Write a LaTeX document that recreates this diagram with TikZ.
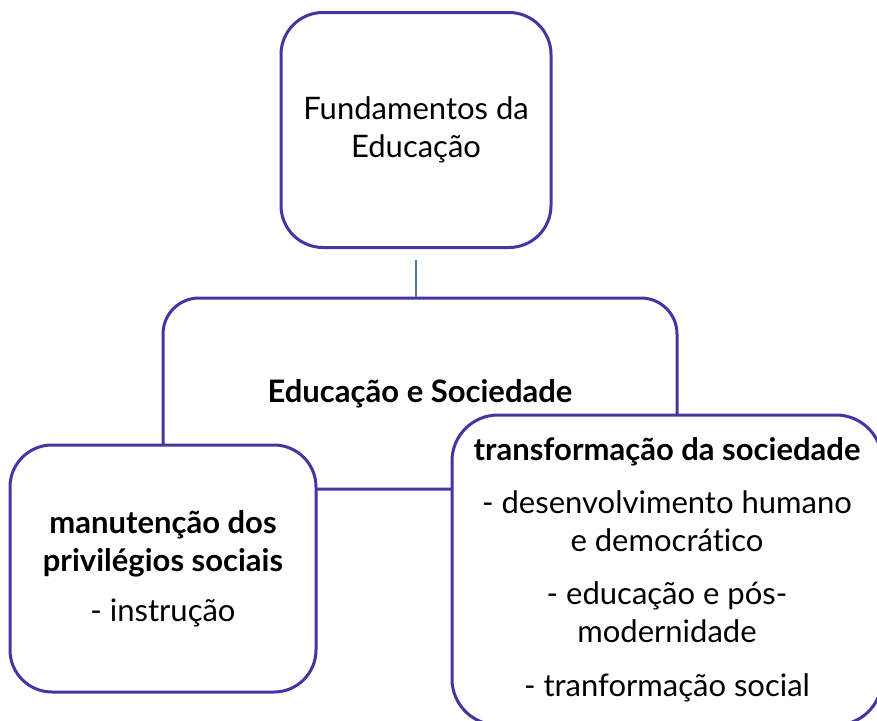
\documentclass[tikz,border=0pt]{standalone}
\usepackage{fontspec}
\setmainfont{Lato}[Ligatures=NoCommon]
\definecolor{caixaroxa}{RGB}{70,52,163}
\definecolor{ligacao}{RGB}{74,122,168}
\tikzset{
  caixa/.style={rectangle, draw=caixaroxa, line width=3pt, fill=white,
    align=center, inner sep=0pt, font=\fontsize{31}{38}\selectfont},
  ligacao/.style={draw=ligacao, line width=2pt},
}
\begin{document}
\begin{tikzpicture}[x=1pt, y=-1pt]
    % --- 1. area visivel ---
    \useasboundingbox (0,0) rectangle (877,720);
    \clip (0,0) rectangle (877,720);

    % --- 2. centros das caixas ---
    \coordinate (C_fund) at (416, 130);
    \coordinate (C_soc)  at (420, 393.5);
    \coordinate (C_man)  at (163, 568.5);
    \coordinate (C_tra)  at (667, 570);

    % --- 3. caixas ---
    \node[caixa, rounded corners=42pt, minimum width=270pt, minimum height=235pt]
      (fund) at (C_fund) {Fundamentos da\\Educação};
    \node[caixa, rounded corners=36pt, minimum width=514pt, minimum height=191pt]
      (soc) at (C_soc) {\bfseries Educação e Sociedade};

    % ligacao entre as duas primeiras
    \draw[ligacao, shorten <=11pt] (fund.south) -- (fund.south |- soc.north);

    \node[caixa, rounded corners=42pt, minimum width=306pt, minimum height=247pt]
      (man) at (C_man) {{\bfseries manutenção dos}\\{\bfseries privilégios sociais}\\[12pt]- instrução};
    \node[caixa, rounded corners=46pt, minimum width=430pt, minimum height=310pt]
      (tra) at (C_tra) {{\bfseries transformação da sociedade}\\[15pt]- desenvolvimento humano\\e democrático\\[15pt]- educação e pós-\\modernidade\\[16pt]- tranformação social};

  \end{tikzpicture}
\end{document}
